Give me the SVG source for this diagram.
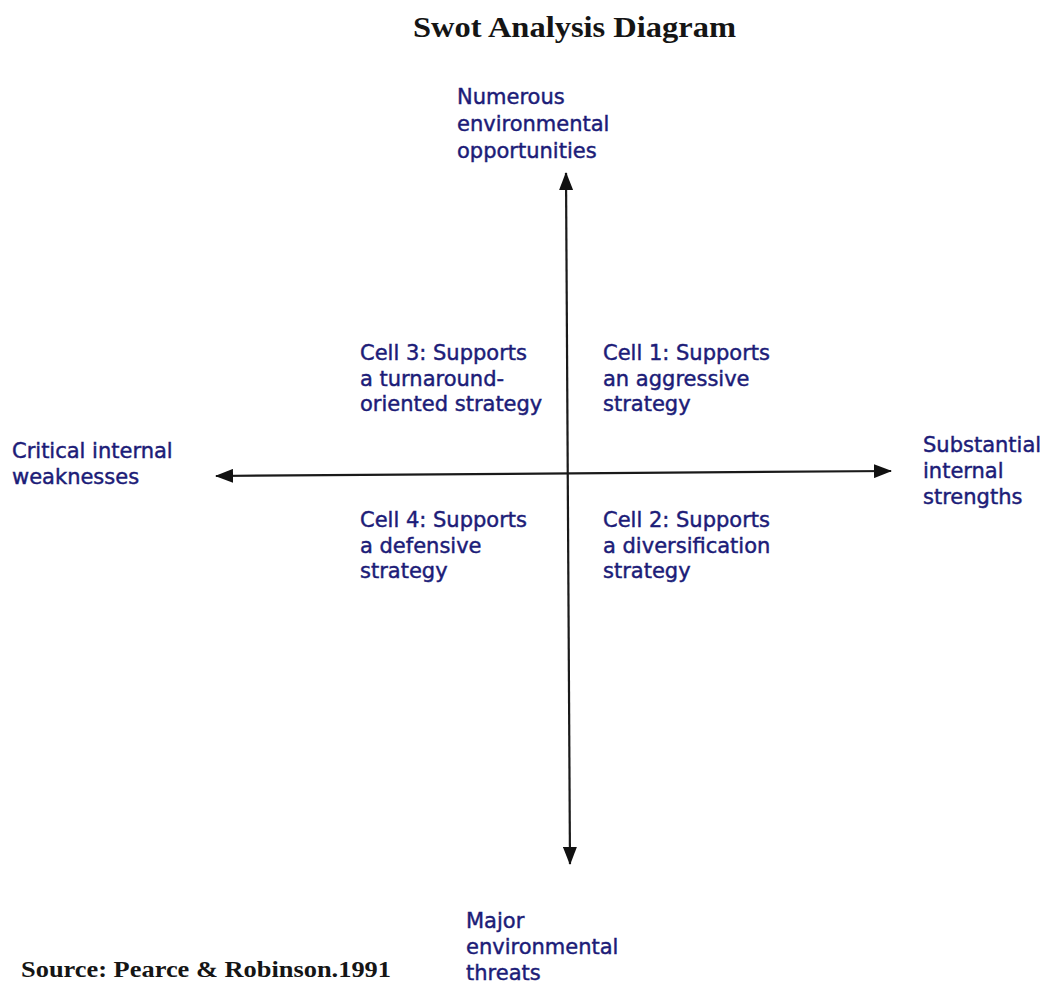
<svg xmlns="http://www.w3.org/2000/svg" width="1048" height="987" viewBox="0 0 1048 987">
  <style>
    .lbl { font-family: "DejaVu Sans", "Liberation Sans", sans-serif; font-size: 21px; fill: #1c1c78; stroke: #1c1c78; stroke-width: 0.45; }
    .serif { font-family: "Liberation Serif", "Times New Roman", serif; font-weight: bold; fill: #151515; }
    .axis { stroke: #1a1a1a; stroke-width: 2.2; fill: none; }
  </style>
  <defs>
    <marker id="arrowhead" viewBox="0 0 18 14" refX="17" refY="7" markerWidth="18" markerHeight="14" markerUnits="userSpaceOnUse" orient="auto-start-reverse">
      <path d="M0,0 L18,7 L0,14 Z" fill="#111"/>
    </marker>
  </defs>
  <rect width="1048" height="987" fill="#ffffff"/>

  <text class="serif" x="413" y="37" font-size="29" textLength="323" lengthAdjust="spacingAndGlyphs">Swot Analysis Diagram</text>

  <!-- axes, each a double-headed arrow -->
  <g id="connectors">
    <line class="axis" x1="566" y1="173" x2="570" y2="864" marker-start="url(#arrowhead)" marker-end="url(#arrowhead)"/>
    <line class="axis" x1="216" y1="476" x2="891" y2="471" marker-start="url(#arrowhead)" marker-end="url(#arrowhead)"/>
  </g>

  <g id="opportunities">
    <text class="lbl" x="457" y="104">Numerous</text>
    <text class="lbl" x="457" y="131">environmental</text>
    <text class="lbl" x="457" y="158">opportunities</text>
  </g>

  <g id="threats">
    <text class="lbl" x="466" y="928">Major</text>
    <text class="lbl" x="466" y="954">environmental</text>
    <text class="lbl" x="466" y="980">threats</text>
  </g>

  <g id="weaknesses">
    <text class="lbl" x="12" y="458">Critical internal</text>
    <text class="lbl" x="12" y="484">weaknesses</text>
  </g>

  <g id="strengths">
    <text class="lbl" x="923" y="452">Substantial</text>
    <text class="lbl" x="923" y="478">internal</text>
    <text class="lbl" x="923" y="504">strengths</text>
  </g>

  <g id="cell3">
    <text class="lbl" x="360" y="360">Cell 3: Supports</text>
    <text class="lbl" x="360" y="386">a turnaround-</text>
    <text class="lbl" x="360" y="411">oriented strategy</text>
  </g>

  <g id="cell1">
    <text class="lbl" x="603" y="360">Cell 1: Supports</text>
    <text class="lbl" x="603" y="386">an aggressive</text>
    <text class="lbl" x="603" y="411">strategy</text>
  </g>

  <g id="cell4">
    <text class="lbl" x="360" y="527">Cell 4: Supports</text>
    <text class="lbl" x="360" y="553">a defensive</text>
    <text class="lbl" x="360" y="578">strategy</text>
  </g>

  <g id="cell2">
    <text class="lbl" x="603" y="527">Cell 2: Supports</text>
    <text class="lbl" x="603" y="553">a diversification</text>
    <text class="lbl" x="603" y="578">strategy</text>
  </g>

  <text class="serif" x="21" y="977" font-size="24" textLength="370" lengthAdjust="spacingAndGlyphs">Source: Pearce &amp; Robinson.1991</text>
</svg>
